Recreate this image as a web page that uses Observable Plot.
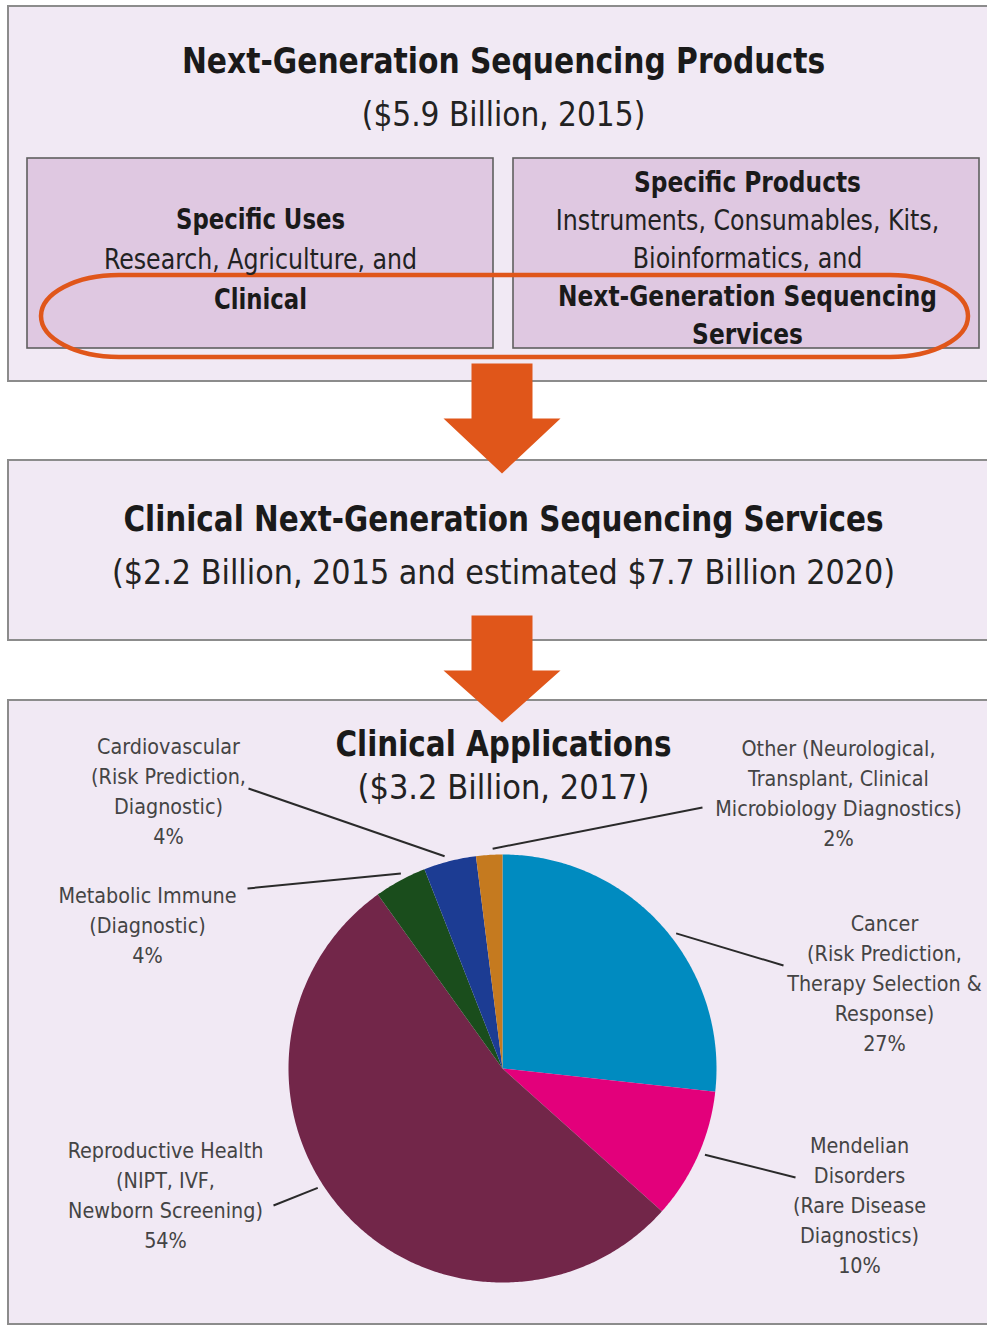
<!DOCTYPE html>
<html>
<head>
<meta charset="utf-8">
<script src="https://cdn.jsdelivr.net/npm/d3@7"></script>
<script src="https://cdn.jsdelivr.net/npm/@observablehq/plot@0.6"></script>
<style>
  html, body { margin: 0; padding: 0; background: #ffffff; }
  #chart svg { display: block; }
</style>
</head>
<body>
<div id="chart"></div>
<script>
// ---------- data ----------
const categories = ["Cancer", "Mendelian", "Reproductive", "Metabolic", "Cardiovascular", "Other"];
const shares = [27, 10, 54, 4, 4, 2];
const sliceColors = ["#008bc0", "#e3007b", "#722649", "#1a4d1c", "#1c3c93", "#c57a1f"];
const labelLines = [
  ["Cancer", "(Risk Prediction,", "Therapy Selection &", "Response)", "27%"],
  ["Mendelian", "Disorders", "(Rare Disease", "Diagnostics)", "10%"],
  ["Reproductive Health", "(NIPT, IVF,", "Newborn Screening)", "54%"],
  ["Metabolic Immune", "(Diagnostic)", "4%"],
  ["Cardiovascular", "(Risk Prediction,", "Diagnostic)", "4%"],
  ["Other (Neurological,", "Transplant, Clinical", "Microbiology Diagnostics)", "2%"]
];
const topTitle = "Next-Generation Sequencing Products";
const topSubtitle = "($5.9 Billion, 2015)";
const usesLines = [["Specific Uses", true], ["Research, Agriculture, and", false], ["Clinical", true]];
const productLines = [["Specific Products", true], ["Instruments, Consumables, Kits,", false], ["Bioinformatics, and", false], ["Next-Generation Sequencing", true], ["Services", true]];
const midTitle = "Clinical Next-Generation Sequencing Services";
const midSubtitle = "($2.2 Billion, 2015 and estimated $7.7 Billion 2020)";
const pieTitle = "Clinical Applications";
const pieSubtitle = "($3.2 Billion, 2017)";

// ---------- layout ----------
const W = 987, H = 1326;
const FONT = "'Liberation Sans Narrow', 'Arial Narrow', 'DejaVu Sans Condensed', sans-serif";
const ORANGE = "#e0561a";
const pie = {cx: 502, cy: 1068, r: 214};
// label anchor: [x center, first baseline, leader end x, leader end y, leader angle nudge (deg)]
const labelLayout = [
  [884, 930, 783, 965, 4],
  [859, 1152, 795, 1177, -1],
  [165, 1157, 273, 1205, 9],
  [147, 902, 247, 888, 1],
  [168, 753, 248, 788, -1],
  [838, 755, 702, 807, 1]
];
const LINE = 30;

const boxes = [
  {x1: 8, x2: 995, y1: 6, y2: 381, fill: "#f1e9f4", stroke: "#8c8c8c", sw: 2},
  {x1: 27, x2: 493, y1: 158, y2: 348, fill: "#dfc8e1", stroke: "#5f5f5f", sw: 1.6},
  {x1: 513, x2: 979, y1: 158, y2: 348, fill: "#dfc8e1", stroke: "#5f5f5f", sw: 1.6},
  {x1: 8, x2: 995, y1: 460, y2: 640, fill: "#f1e9f4", stroke: "#8c8c8c", sw: 2},
  {x1: 8, x2: 995, y1: 700, y2: 1324, fill: "#f1e9f4", stroke: "#8c8c8c", sw: 2}
];

function arrow(id, top, base, tip) {
  const cx = 501.5;
  return [[cx - 30.5, top], [cx + 30.5, top], [cx + 30.5, base], [cx + 58.5, base], [cx, tip], [cx - 58.5, base], [cx - 30.5, base], [cx - 30.5, top]]
    .map(([x, y]) => ({id, x, y}));
}
const arrows = [...arrow("a1", 363, 418, 473), ...arrow("a2", 615, 670, 722)];

// ---------- pie geometry from the data ----------
const arcs = d3.pie().sort(null).startAngle(0).endAngle(2 * Math.PI)(shares);
const slicePts = [];
arcs.forEach((a, i) => {
  slicePts.push({cat: categories[i], x: pie.cx, y: pie.cy});
  const n = Math.max(4, Math.ceil((a.endAngle - a.startAngle) / 0.01));
  for (let k = 0; k <= n; k++) {
    const t = a.startAngle + (a.endAngle - a.startAngle) * k / n;
    slicePts.push({cat: categories[i], x: pie.cx + pie.r * Math.sin(t), y: pie.cy - pie.r * Math.cos(t)});
  }
  slicePts.push({cat: categories[i], x: pie.cx, y: pie.cy});
});

const leaders = arcs.map((a, i) => {
  const [lx, ly, ex, ey, nudge] = labelLayout[i];
  const t = (a.startAngle + a.endAngle) / 2 + nudge * Math.PI / 180;
  const rr = pie.r + 6;
  return {x1: pie.cx + rr * Math.sin(t), y1: pie.cy - rr * Math.cos(t), x2: ex, y2: ey};
});

const labelRows = [];
labelLines.forEach((lines, i) => {
  const [lx, ly] = labelLayout[i];
  lines.forEach((s, j) => labelRows.push({text: s, x: lx, y: ly + j * LINE, sq: 0.97}));
});

// sq = horizontal condensing factor, approximating the original condensed typeface
const headRows = [
  {text: topTitle, x: 503, y: 72, size: 35, bold: true, sq: 0.945},
  {text: topSubtitle, x: 503, y: 125, size: 33, bold: false, sq: 1},
  ...usesLines.map(([t, b], j) => ({text: t, x: 260, y: 228 + j * 40, size: 28, bold: b, sq: b ? 0.905 : 0.94})),
  ...productLines.map(([t, b], j) => ({text: t, x: 747, y: 191 + j * 38, size: 28, bold: b, sq: b ? 0.925 : 0.94})),
  {text: midTitle, x: 503, y: 530, size: 36, bold: true, sq: 0.91},
  {text: midSubtitle, x: 503, y: 583, size: 34, bold: false, sq: 0.99},
  {text: pieTitle, x: 503, y: 755, size: 36, bold: true, sq: 0.91},
  {text: pieSubtitle, x: 503, y: 798, size: 34, bold: false, sq: 1}
];

const chart = Plot.plot({
  width: W, height: H, margin: 0,
  x: {domain: [0, W], range: [0, W], axis: null},
  y: {domain: [0, H], range: [0, H], axis: null},
  color: {domain: categories, range: sliceColors},
  style: {background: "#ffffff", fontFamily: FONT},
  marks: [
    Plot.rect(boxes, {x1: "x1", x2: "x2", y1: "y1", y2: "y2", fill: d => d.fill, stroke: d => d.stroke, strokeWidth: d => d.sw}),
    Plot.rect([{x1: 41, x2: 968, y1: 275, y2: 357}], {x1: "x1", x2: "x2", y1: "y1", y2: "y2", fill: "none", stroke: ORANGE, strokeWidth: 4.5, rx: 78, ry: 41}),
    Plot.line(arrows, {x: "x", y: "y", z: "id", fill: ORANGE, stroke: "none"}),
    Plot.line(slicePts, {x: "x", y: "y", z: "cat", fill: "cat", stroke: "none", curve: "linear"}),
    Plot.link(leaders, {x1: "x1", y1: "y1", x2: "x2", y2: "y2", stroke: "#2a2a2a", strokeWidth: 2}),
    Plot.text(headRows.filter(d => d.bold), {x: "x", y: "y", text: "text", fontSize: d => d.size, fontWeight: "bold", fill: "#1a1a1a", lineAnchor: "bottom", textAnchor: "middle"}),
    Plot.text(headRows.filter(d => !d.bold), {x: "x", y: "y", text: "text", fontSize: d => d.size, fill: "#222222", lineAnchor: "bottom", textAnchor: "middle"}),
    Plot.text(labelRows, {x: "x", y: "y", text: "text", fontSize: 22, fill: "#444444", lineAnchor: "bottom", textAnchor: "middle"})
  ]
});
document.getElementById("chart").appendChild(chart);
// condense text horizontally by its per-row factor
const squeeze = new Map([...labelRows, ...headRows].map(d => [d.text, d.sq]));
chart.querySelectorAll("text").forEach(t => {
  const k = squeeze.get(t.textContent);
  const w = t.getComputedTextLength();
  if (w > 0 && k && k !== 1) {
    t.setAttribute("textLength", (w * k).toFixed(1));
    t.setAttribute("lengthAdjust", "spacingAndGlyphs");
  }
});
</script>
</body>
</html>
